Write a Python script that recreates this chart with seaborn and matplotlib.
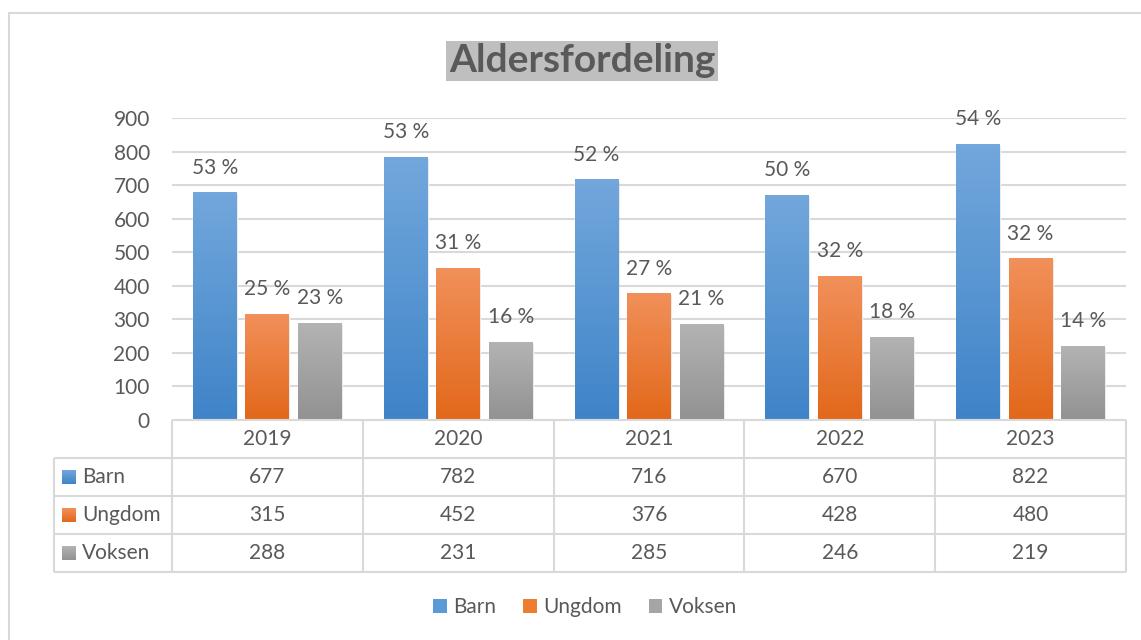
import math
import numpy as np
import pandas as pd
import matplotlib
matplotlib.use("Agg")
import matplotlib.pyplot as plt
import seaborn as sns
from matplotlib.patches import Rectangle, Patch
from matplotlib.colors import LinearSegmentedColormap

# ---- data ----
years = ["2019", "2020", "2021", "2022", "2023"]
groups = ["Barn", "Ungdom", "Voksen"]
barn = [677, 782, 716, 670, 822]
ungdom = [315, 452, 376, 428, 480]
voksen = [288, 231, 285, 246, 219]
title = "Aldersfordeling"
y_ticks = [0, 100, 200, 300, 400, 500, 600, 700, 800, 900]

series = {"Barn": barn, "Ungdom": ungdom, "Voksen": voksen}
df = pd.DataFrame([(y, g, series[g][i]) for g in groups for i, y in enumerate(years)],
                  columns=["year", "group", "value"])
totals = [barn[i] + ungdom[i] + voksen[i] for i in range(len(years))]

# ---- style ----
sns.set_theme(style="white")
plt.rcParams["font.family"] = ["Lato", "DejaVu Sans"]
TXT = "#595959"
GRID = "#d9d9d9"
FS = 15
grad = {
    "Barn": ("#72a7dc", "#3f84c8"),
    "Ungdom": ("#f1905a", "#e2681a"),
    "Voksen": ("#b3b3b3", "#929292"),
}
mid = {"Barn": "#5b9bd5", "Ungdom": "#ed7d31", "Voksen": "#a5a5a5"}

W, H = 1141, 640
fig = plt.figure(figsize=(W / 100, H / 100), dpi=100)
ax = fig.add_axes([172 / W, 1 - 420 / H, (1126 - 172) / W, 302 / H])

sns.barplot(data=df, x="year", y="value", hue="group", order=years, hue_order=groups,
            palette=mid, width=0.825, gap=0.164, saturation=1, ax=ax, legend=False)

ax.set_xlim(-0.5, 4.5)
ax.set_ylim(0, 900)


def gradient_fill(ax, x0, x1, y0, y1, top, bottom, clip=None, z=2):
    cmap = LinearSegmentedColormap.from_list("g", [bottom, top])
    img = ax.imshow(np.linspace(0, 1, 64).reshape(-1, 1), cmap=cmap, origin="lower",
                    extent=[x0, x1, y0, y1], aspect="auto", zorder=z, clip_on=False)
    if clip is not None:
        img.set_clip_path(clip)
    return img


for g, cont in zip(groups, ax.containers):
    for i, bar in enumerate(cont):
        x0 = bar.get_x()
        w = bar.get_width()
        h = bar.get_height()
        # soft shadow
        ax.add_patch(Rectangle((x0 + 0.006, -4), w, h, facecolor="#000000", alpha=0.08,
                               zorder=1.5, linewidth=0))
        gradient_fill(ax, x0, x0 + w, 0, h, *grad[g], clip=bar, z=2.5)
        pct = math.floor(100 * series[g][i] / totals[i] + 0.5)
        ax.text(x0 + w / 2, h + 75, f"{pct} %", ha="center", va="center",
                fontsize=FS, color=TXT, zorder=4)

ax.set_xlim(-0.5, 4.5)
ax.set_ylim(0, 900)

# grid / axes
ax.set_yticks(y_ticks)
for yv in y_ticks[1:]:
    ax.axhline(yv, color=GRID, lw=1.5, zorder=0)
for s in ax.spines.values():
    s.set_visible(False)
ax.tick_params(axis="y", length=0, pad=16, labelsize=FS, labelcolor=TXT)
ax.set_xticks([])
ax.set_xlabel("")
ax.set_ylabel("")

# ---- data table ----
upx = 900 / 302  # data units per pixel
row_h = 38 * upx
xl = (54 - 172) / 191 - 0.5
rows_y = [0, -row_h, -2 * row_h, -3 * row_h, -4 * row_h]
lk = dict(color=GRID, lw=1.5, clip_on=False, zorder=3, solid_capstyle="butt")
ax.plot([-0.5, 4.5], [0, 0], **lk)
for yv in rows_y[1:]:
    ax.plot([xl, 4.5], [yv, yv], **lk)
for k in range(6):
    ax.plot([k - 0.5, k - 0.5], [0, rows_y[-1]], **lk)
ax.plot([xl, xl], [rows_y[1], rows_y[-1]], **lk)

for i, y in enumerate(years):
    ax.text(i, -row_h / 2, y, ha="center", va="center", fontsize=FS, color=TXT, clip_on=False)
for r, g in enumerate(groups):
    yc = -row_h * (r + 1.5)
    for i in range(len(years)):
        ax.text(i, yc, str(series[g][i]), ha="center", va="center", fontsize=FS,
                color=TXT, clip_on=False)
    sx0 = (62 - 172) / 191 - 0.5
    sx1 = (76 - 172) / 191 - 0.5
    gradient_fill(ax, sx0, sx1, yc - 7 * upx, yc + 7 * upx, *grad[g], z=4)
    ax.text((82 - 172) / 191 - 0.5, yc, g, ha="left", va="center", fontsize=FS,
            color=TXT, clip_on=False)

ax.set_xlim(-0.5, 4.5)
ax.set_ylim(0, 900)

# ---- legend ----
handles = [Patch(facecolor=mid[g], edgecolor="none", label=g) for g in groups]
fig.legend(handles=handles, loc="center", bbox_to_anchor=(585 / W, 1 - 607 / H), ncol=3,
           frameon=False, fontsize=FS, handlelength=0.65, handleheight=0.65,
           handletextpad=0.3, columnspacing=1.3, labelcolor=TXT)

# ---- title ----
fig.text(582 / W, 1 - 61 / H, title, ha="center", va="center", fontsize=28,
         fontweight="bold", color=TXT,
         bbox=dict(facecolor="#bfbfbf", edgecolor="none", pad=2))

# ---- chart border ----
fig.add_artist(plt.Line2D([9 / W, 9 / W], [0, 1 - 13 / H], color=GRID, lw=1.5,
                          transform=fig.transFigure))
fig.add_artist(plt.Line2D([9 / W, 1], [1 - 13 / H, 1 - 13 / H], color=GRID, lw=1.5,
                          transform=fig.transFigure))

fig.savefig("out.png", dpi=100, facecolor="white")
